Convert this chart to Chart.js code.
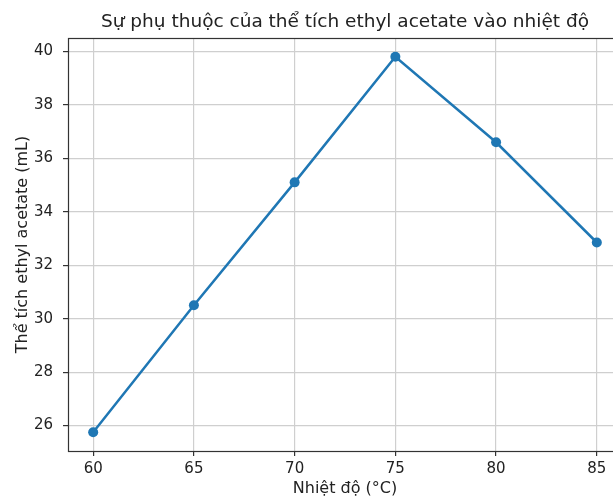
<!DOCTYPE html>
<html><head><meta charset="utf-8">
<script src="https://cdn.jsdelivr.net/npm/chart.js@4"></script>
<style>
html,body{margin:0;padding:0;overflow:hidden;background:#fff;width:613px;height:498px}
#wrap{position:absolute;left:0;top:0;width:632px;height:498px}
</style>
</head><body><div id="wrap"><canvas id="c" width="632" height="498"></canvas></div>
<script>
const temperatures = [60, 65, 70, 75, 80, 85];
const volumes = [25.75, 30.5, 35.1, 39.8, 36.6, 32.85];
const xTicks = [60, 65, 70, 75, 80, 85];
const yTicks = [26, 28, 30, 32, 34, 36, 38, 40];
const chartTitle = 'Sự phụ thuộc của thể tích ethyl acetate vào nhiệt độ';
const xTitle = 'Nhiệt độ (°C)';
const yTitle = 'Thể tích ethyl acetate (mL)';

const FONT = 'DejaVu Sans';
const TEXT = '#222';

const framePlugin = {
  id: 'frame',
  afterDatasetsDraw(chart) {
    const a = chart.chartArea, ctx = chart.ctx;
    ctx.save();
    ctx.strokeStyle = '#333';
    ctx.lineWidth = 1.2;
    ctx.strokeRect(Math.round(a.left) + 0.5, Math.round(a.top) + 0.5, Math.round(a.right - a.left), Math.round(a.bottom - a.top));
    ctx.restore();
  },
  afterDraw(chart) {
    const a = chart.chartArea, ctx = chart.ctx;
    ctx.save();
    ctx.font = '18.5px "' + FONT + '"';
    ctx.fillStyle = TEXT;
    ctx.textAlign = 'center';
    ctx.textBaseline = 'middle';
    ctx.fillText(chartTitle, (a.left + a.right) / 2, 22);
    ctx.restore();
  }
};

new Chart(document.getElementById('c'), {
  type: 'line',
  data: {
    datasets: [{
      data: temperatures.map((t, i) => ({x: t, y: volumes[i]})),
      borderColor: '#1f77b4',
      backgroundColor: '#1f77b4',
      borderWidth: 2.5,
      pointRadius: 5,
      pointHoverRadius: 5,
      pointBorderWidth: 0,
      tension: 0,
      clip: false
    }]
  },
  options: {
    responsive: false,
    animation: false,
    layout: {padding: {top: 38, right: 10, left: 0, bottom: 0}},
    plugins: {legend: {display: false}, tooltip: {enabled: false}, title: {display: false}},
    scales: {
      x: {
        type: 'linear',
        min: 58.75, max: 86.25,
        afterBuildTicks: s => { s.ticks = xTicks.map(v => ({value: v})); },
        afterFit: s => { s.height = 47; },
        border: {display: false},
        grid: {color: '#cfcfcf', lineWidth: 1.2, tickColor: '#333', tickLength: 5, drawTicks: true},
        ticks: {color: TEXT, font: {family: FONT, size: 15}, padding: 4, maxRotation: 0},
        title: {display: true, text: xTitle, color: TEXT, font: {family: FONT, size: 16, lineHeight: 1.1}, padding: {top: 0, bottom: 0}}
      },
      y: {
        type: 'linear',
        min: 25.05, max: 40.5,
        afterBuildTicks: s => { s.ticks = yTicks.map(v => ({value: v})); },
        afterFit: s => { s.width = 68; },
        border: {display: false},
        grid: {color: '#cfcfcf', lineWidth: 1.2, tickColor: '#333', tickLength: 5, drawTicks: true},
        ticks: {color: TEXT, font: {family: FONT, size: 15}, padding: 10},
        title: {display: true, text: yTitle, color: TEXT, font: {family: FONT, size: 16, lineHeight: 1.2}, padding: {top: 13, bottom: 0}}
      }
    }
  },
  plugins: [framePlugin]
});
</script>
</body></html>
